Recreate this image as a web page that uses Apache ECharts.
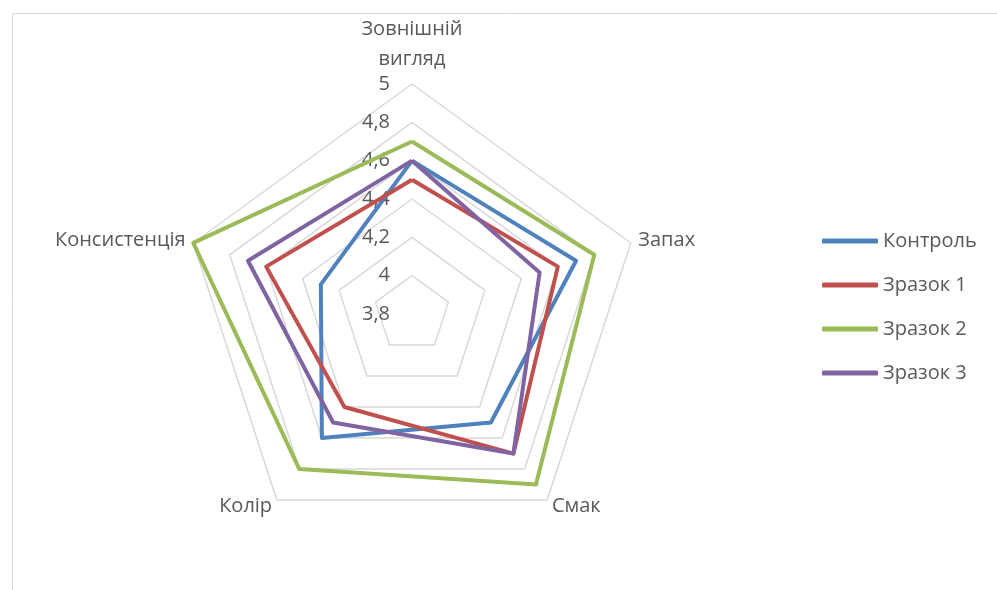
<!DOCTYPE html>
<html>
<head>
<meta charset="utf-8">
<script src="https://cdn.jsdelivr.net/npm/echarts@6/dist/echarts.min.js"></script>
<style>
  html, body { margin: 0; padding: 0; background: #fff; }
  #chart { width: 997px; height: 590px; }
</style>
</head>
<body>
<div id="chart"></div>
<script>
// indicators in ECharts order (top, then counter-clockwise)
const indicators = ['Зовнішній\nвигляд', 'Консистенція', 'Колір', 'Смак', 'Запах']
const seriesNames = ['Контроль', 'Зразок 1', 'Зразок 2', 'Зразок 3']
const control = [4.6, 4.3, 4.6, 4.5, 4.7]
const sample1 = [4.5, 4.6, 4.4, 4.7, 4.6]
const sample2 = [4.7, 5.0, 4.8, 4.9, 4.8]
const sample3 = [4.6, 4.7, 4.5, 4.7, 4.5]
const colors = ['#4F81BD', '#C0504D', '#9BBB59', '#8064A2']

const FONT = "'Open Sans', 'Noto Sans', sans-serif"
const FS = 20
const chart = echarts.init(document.getElementById('chart'), null, { renderer: 'canvas' })

const values = [control, sample1, sample2, sample3]

chart.setOption({
  animation: false,
  color: colors,
  textStyle: { fontFamily: FONT },
  graphic: [{
    type: 'polyline',
    shape: { points: [[12.5, 590], [12.5, 13.5], [997, 13.5]] },
    style: { stroke: '#d9d9d9', lineWidth: 1, fill: null },
    silent: true,
  }],
  legend: {
    orient: 'vertical',
    left: 817,
    top: 226,
    itemWidth: 56,
    itemHeight: 5,
    itemGap: 24,
    icon: 'roundRect',
    textStyle: { fontFamily: FONT, fontSize: FS, color: '#595959', lineHeight: 20 },
    data: seriesNames,
  },
  radar: {
    center: [412, 314],
    radius: 230,
    startAngle: 90,
    splitNumber: 6,
    shape: 'polygon',
    nameGap: 8,
    axisName: { color: '#595959', fontSize: FS, fontFamily: FONT, lineHeight: 30 },
    indicator: indicators.map((n, i) => ({
      name: n, min: 3.8, max: 5,
      axisLabel: i === 0 ? { show: true } : undefined,
    })),
    splitLine: { lineStyle: { color: '#d9d9d9', width: 1.5 } },
    splitArea: { show: false },
    axisLine: { show: false },
    axisTick: { show: false },
    axisLabel: {
      show: false,
      color: '#595959',
      fontSize: FS,
      fontFamily: FONT,
      margin: 22,
      formatter: v => String(Number(v.toFixed(1))).replace('.', ','),
    },
  },
  series: [{
    type: 'radar',
    symbol: 'none',
    lineStyle: { width: 4 },
    data: seriesNames.map((n, i) => ({
      name: n,
      value: values[i],
      lineStyle: { color: colors[i], width: 4 },
      itemStyle: { color: colors[i] },
    })),
  }],
})
</script>
</body>
</html>
